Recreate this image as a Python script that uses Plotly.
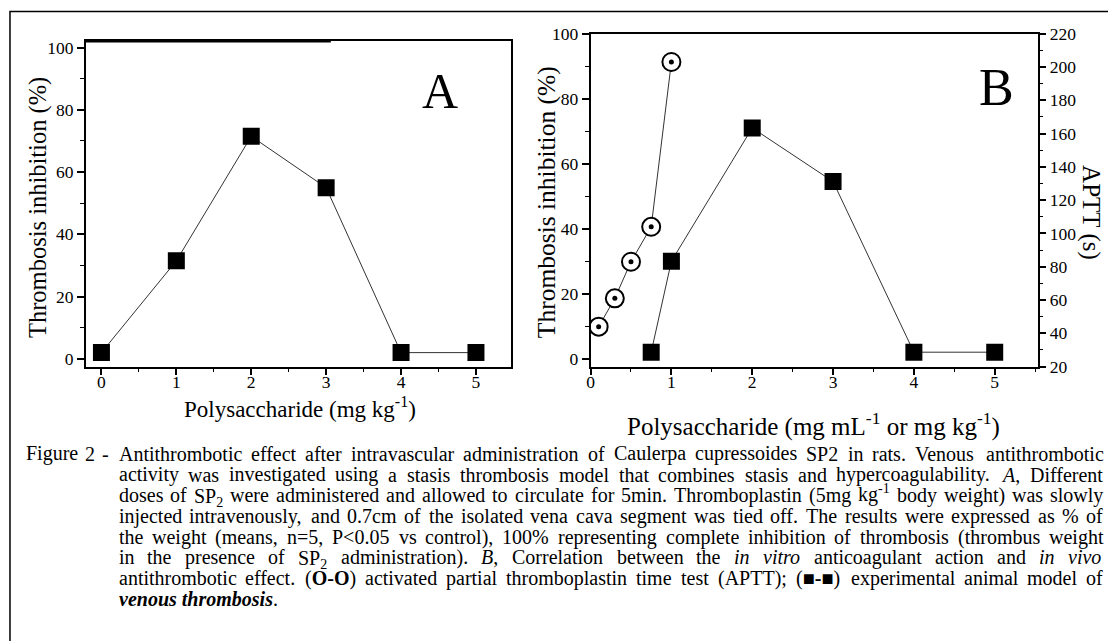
import re
import plotly.graph_objects as go

# ---------------- data ----------------
dose_a = [0, 1, 2, 3, 4, 5]
inhib_a = [2, 31.5, 71.5, 55, 2, 2]

dose_b = [0.75, 1, 2, 3, 4, 5]
inhib_b = [2, 30, 71, 54.5, 2, 2]

conc_aptt = [0.1, 0.3, 0.5, 0.75, 1.0]
aptt_s = [44, 61, 83, 104, 203]

caption_prefix = "Figure 2 -"
caption_lines = [
    "Antithrombotic effect after intravascular administration of Caulerpa cupressoides SP2 in rats. Venous antithrombotic",
    "activity was investigated using a stasis thrombosis model that combines stasis and hypercoagulability. <i>A</i>, Different",
    "doses of SP<sub>2</sub> were administered and allowed to circulate for 5min. Thromboplastin (5mg kg<sup>-1</sup> body weight) was slowly",
    "injected intravenously, and 0.7cm of the isolated vena cava segment was tied off. The results were expressed as % of",
    "the weight (means, n=5, P&lt;0.05 vs control), 100% representing complete inhibition of thrombosis (thrombus weight",
    "in the presence of SP<sub>2</sub> administration). <i>B</i>, Correlation between the <i>in</i> <i>vitro</i> anticoagulant action and <i>in</i> <i>vivo</i>",
    "antithrombotic effect. (<b>O-O</b>) activated partial thromboplastin time test (APTT); (<b>■-■</b>) experimental animal model of",
]
caption_last = "<b><i>venous thrombosis</i></b>."

W, H = 1108, 641
FONT = "Liberation Serif"

# Times / Liberation Serif advance widths (1/1000 em)
_w = {' ': 250, '!': 333, '(': 333, ')': 333, '%': 833, ',': 250, '-': 333, '.': 250, '/': 278,
      ':': 278, ';': 278, '<': 564, '=': 564, '>': 564, '?': 444, '■': 604}
for d in '0123456789':
    _w[d] = 500
_up = dict(A=722, B=667, C=667, D=722, E=611, F=556, G=722, H=722, I=333, J=389, K=722, L=611, M=889,
           N=722, O=722, P=556, Q=722, R=667, S=556, T=611, U=722, V=722, W=944, X=722, Y=722, Z=611)
_lo = dict(a=444, b=500, c=444, d=500, e=444, f=333, g=500, h=500, i=278, j=278, k=500, l=278, m=778,
           n=500, o=500, p=500, q=500, r=333, s=389, t=278, u=500, v=500, w=722, x=500, y=500, z=444)
_w.update(_up)
_w.update(_lo)


def text_width(html, size):
    total, scale, bold = 0.0, 1.0, False
    for tok in re.split(r'(<[^>]+>)', html):
        if tok.startswith('<'):
            name = tok.strip('<>/').lower()
            closing = tok.startswith('</')
            if name in ('sub', 'sup'):
                scale = 1.0 if closing else 0.7
            if name == 'b':
                bold = not closing
            continue
        tok = tok.replace('&lt;', '<')
        for ch in tok:
            total += _w.get(ch, 500) * scale * (1.06 if bold else 1.0)
    return total * size / 1000.0


def px(x):
    return (x - 2) / W


def py(y):
    # vertical placement calibrated against the photographed page
    return 1 - ((y - 10.4) / 0.966) / H


fig = go.Figure()

line_style = dict(color="#333333", width=1)

fig.add_trace(go.Scatter(x=dose_a, y=inhib_a, mode="lines+markers", xaxis="x", yaxis="y",
                         line=line_style,
                         marker=dict(symbol="square", size=17, color="black"), showlegend=False))

fig.add_trace(go.Scatter(x=dose_b, y=inhib_b, mode="lines+markers", xaxis="x2", yaxis="y2",
                         line=line_style,
                         marker=dict(symbol="square", size=17, color="black"), showlegend=False))

fig.add_trace(go.Scatter(x=conc_aptt, y=aptt_s, mode="lines+markers", xaxis="x2", yaxis="y3",
                         line=line_style,
                         marker=dict(symbol="circle", size=18, color="white",
                                     line=dict(color="black", width=2)), showlegend=False))
fig.add_trace(go.Scatter(x=conc_aptt, y=aptt_s, mode="markers", xaxis="x2", yaxis="y3",
                         marker=dict(symbol="circle", size=5, color="black"), showlegend=False))

tickfont = dict(family=FONT, size=17.5, color="black")
common = dict(showgrid=False, zeroline=False, showline=True, linecolor="black", linewidth=1.5,
              ticks="outside", ticklen=7, tickwidth=1.5, tickcolor="black", tickfont=tickfont)
minor_x = dict(dtick=0.5, ticklen=4, ticks="outside", tickcolor="black", tickwidth=1.2)
minor_y = dict(dtick=10, ticklen=4, ticks="outside", tickcolor="black", tickwidth=1.2)

fig.update_layout(
    width=W, height=H,
    margin=dict(l=0, r=0, t=0, b=0),
    paper_bgcolor="white", plot_bgcolor="white",
    xaxis=dict(domain=[px(84), px(511)], range=[-0.21, 5.47], anchor="y", mirror=True,
               dtick=1, minor=minor_x, ticklabelstandoff=-8, **common),
    yaxis=dict(domain=[py(366), py(41.7)], range=[-2.5, 102], anchor="x", mirror=True,
               dtick=20, minor=minor_y, **common),
    xaxis2=dict(domain=[px(590.7), px(1039.3)], range=[0, 5.53], anchor="y2", mirror=True,
                dtick=1, minor=minor_x, ticklabelstandoff=-8, **common),
    yaxis2=dict(domain=[py(366), py(34)], range=[-2.44, 100], anchor="x2",
                dtick=20, minor=minor_y, **common),
    yaxis3=dict(domain=[py(366), py(34)], range=[20, 220], anchor="x2", overlaying="y2", side="right",
                dtick=20, minor=minor_y, **common),
)

ann = []
ann.append(dict(text="Thrombosis inhibition (%)", x=px(36), y=py(207), textangle=-90,
                font=dict(family=FONT, size=24.5, color="black")))
ann.append(dict(text="Polysaccharide (mg kg<sup>-1</sup>)", x=px(299), y=py(407),
                font=dict(family=FONT, size=23, color="black")))
ann.append(dict(text="Thrombosis inhibition (%)", x=px(546), y=py(202), textangle=-90,
                font=dict(family=FONT, size=25.5, color="black")))
ann.append(dict(text="APTT (s)", x=px(1093), y=py(212), textangle=90,
                font=dict(family=FONT, size=25, color="black")))
ann.append(dict(text="Polysaccharide (mg mL<sup>-1</sup> or mg kg<sup>-1</sup>)", x=px(814), y=py(424),
                font=dict(family=FONT, size=25, color="black")))
ann.append(dict(text="A", x=px(440), y=py(91), font=dict(family=FONT, size=50, color="black")))
ann.append(dict(text="B", x=px(998), y=py(88), font=dict(family=FONT, size=52, color="black")))

CAP = 20
cap_font = dict(family=FONT, size=CAP, color="black")
cap_y = [453, 474, 494, 515, 536, 556, 577, 598]
LEFT, RIGHT = 116, 1104


def place_justified(words, left, right, yy):
    widths = [text_width(w_, CAP) for w_ in words]
    gap = (right - left - sum(widths)) / (len(words) - 1)
    xx = left
    for w_, ww in zip(words, widths):
        dy = 0
        if "<sup>" in w_:
            dy = -1
        elif "<sub>" in w_:
            dy = 2
        ann.append(dict(text=w_, x=px(xx), y=py(yy + dy), xanchor="left", font=cap_font))
        xx += ww + gap


place_justified(caption_prefix.split(" "), 23, 106, cap_y[0])
for line, yy in zip(caption_lines, cap_y):
    place_justified(line.split(" "), LEFT, RIGHT, yy)
ann.append(dict(text=caption_last, x=px(LEFT), y=py(cap_y[-1]), xanchor="left", font=cap_font))

for a in ann:
    a.update(xref="paper", yref="paper", showarrow=False, borderpad=0)
    a.setdefault("xanchor", "center")
    a.setdefault("yanchor", "middle")
fig.update_layout(annotations=ann)

fig.add_shape(type="rect", xref="paper", yref="paper", x0=px(8), x1=1.05, y0=-0.05, y1=py(12),
              line=dict(color="black", width=1.5), fillcolor="rgba(0,0,0,0)")
# slightly heavier left part of panel A's top border, as in the scan
fig.add_shape(type="line", xref="paper", yref="paper", x0=px(84), x1=px(330), y0=py(41.7), y1=py(41.7),
              line=dict(color="black", width=2))

fig.write_html("out.html", config={"displayModeBar": False},
               post_script="document.body.style.margin='0px';")
